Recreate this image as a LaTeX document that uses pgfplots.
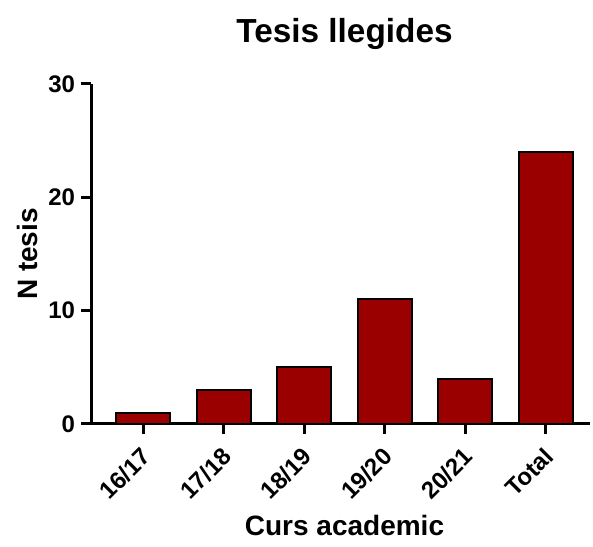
\documentclass[border=0pt]{standalone}
\usepackage{pgfplots}
\pgfplotsset{compat=1.18}
\usepackage{fontspec}
\setmainfont{Liberation Sans}
\definecolor{barred}{RGB}{155,0,0}
\begin{document}
\begin{tikzpicture}
\begin{axis}[
  scale only axis,
  width=374.25pt, height=255pt,
  xmin=-0.65, xmax=5.55,
  ymin=0, ymax=30,
  axis lines=left,
  axis line style={line width=2.25pt, -},
  ytick={0,10,20,30},
  xtick={0,1,2,3,4,5},
  xticklabels={16/17,17/18,18/19,19/20,20/21,Total},
  tick align=outside,
  major tick length=7.5pt,
  tick style={line width=2.25pt, black},
  /pgf/number format/assume math mode=true,
  ticklabel style={font=\fontsize{18}{20}\selectfont\bfseries},
  yticklabel style={xshift=-1pt},
  x tick label style={rotate=45, anchor=north east, xshift=-4.6pt, yshift=-1.2pt},
  title={\fontsize{25}{28}\selectfont\bfseries Tesis llegides},
  title style={yshift=16pt, xshift=3pt},
  ylabel={\fontsize{21}{24}\selectfont\bfseries N tesis},
  ylabel style={yshift=1pt},
  xlabel={\fontsize{21}{24}\selectfont\bfseries Curs academic},
  xlabel style={yshift=-2pt, xshift=3pt},
  clip=false,
]
\addplot[ybar, bar width=40.5pt, fill=barred, draw=black, line width=1.5pt]
  coordinates {(0,1) (1,3) (2,5) (3,11) (4,4) (5,24)};
\draw[line width=2.25pt] ([xshift=-7.5pt]rel axis cs:0,0) -- (rel axis cs:0,0);
\path[use as bounding box] (rel axis cs:-0.1824,-0.3618) rectangle (rel axis cs:1.006,1.247);
\end{axis}
\end{tikzpicture}
\end{document}
